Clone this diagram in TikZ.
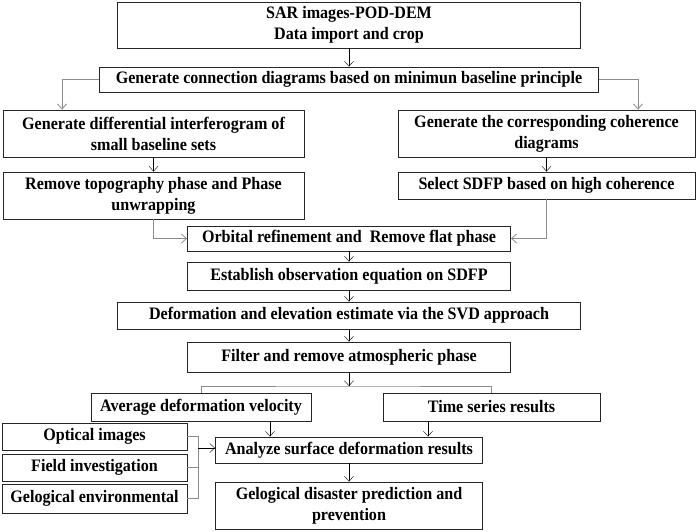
\documentclass[tikz,border=0pt]{standalone}
\usepackage{fontspec}
\setmainfont{Liberation Serif}[FakeStretch=0.92]
\usetikzlibrary{arrows.meta}
\begin{document}
\begin{tikzpicture}[x=1pt,y=-1pt,
    box/.style={draw=black!85,line width=0.9pt,align=center,inner sep=0pt,
      font=\bfseries\fontsize{17.5}{21}\selectfont},
    gline/.style={draw=black!45,line width=0.8pt},
    >={Straight Barb[length=5pt,width=9pt]}]
  \useasboundingbox (0,0) rectangle (699,531);
  \node[box,minimum width=463,minimum height=46] (sar) at (349,25) {SAR images-POD-DEM\\Data import and crop};
  \node[box,minimum width=499,minimum height=25] (conn) at (349,79.5) {Generate connection diagrams based on minimun baseline principle};
  \node[box,minimum width=301,minimum height=47] (diff) at (153.5,133.5) {Generate differential interferogram of\\small baseline sets};
  \node[box,minimum width=297,minimum height=47] (coh) at (546.5,133.5) {Generate the corresponding coherence\\diagrams};
  \node[box,minimum width=301,minimum height=47] (topo) at (153.5,195.5) {Remove topography phase and Phase\\unwrapping};
  \node[box,minimum width=297,minimum height=27] (sdfp) at (546.5,185.5) {Select SDFP based on high coherence};
  \node[box,minimum width=323,minimum height=25] (orb) at (349,238.5) {Orbital refinement and \ Remove flat phase};
  \node[box,minimum width=323,minimum height=28] (obs) at (349,276) {Establish observation equation on SDFP};
  \node[box,minimum width=463,minimum height=27] (svd) at (349,315.5) {Deformation and elevation estimate via the SVD approach};
  \node[box,minimum width=323,minimum height=30] (atm) at (349,357) {Filter and remove atmospheric phase};
  \node[box,minimum width=220,minimum height=28] (vel) at (201,407) {Average deformation velocity};
  \node[box,minimum width=217,minimum height=28] (ts) at (491.5,407) {Time series results};
  \node[box,minimum width=267,minimum height=26] (ana) at (349,450) {Analyze surface deformation results};
  \node[box,minimum width=267,minimum height=47] (dis) at (349,505.5) {Gelogical disaster prediction and\\prevention};
  \node[box,minimum width=185,minimum height=27] (opt) at (94.5,436.5) {Optical images};
  \node[box,minimum width=185,minimum height=27] (fld) at (94.5,467.5) {Field investigation};
  \node[box,minimum width=185,minimum height=29] (env) at (94.5,498.5) {Gelogical environmental};
  \coordinate (split) at (349,386);
  \coordinate (vdrop) at (270,0);
  \coordinate (tdrop) at (428,0);
  \coordinate (brk) at (198,0);
  \draw[->] (sar) -- (conn);
  \draw[gline,->] (conn.west) -| ([xshift=-91.5pt]diff.north);
  \draw[gline,->] (conn.east) -| ([xshift=91.5pt]coh.north);
  \draw[->] (diff) -- (topo);
  \draw[->] (coh) -- (sdfp);
  \draw[gline,->] (topo.south) |- (orb.west);
  \draw[gline,->] (sdfp.south) |- (orb.east);
  \draw[->] (orb) -- (obs);
  \draw[->] (obs) -- (svd);
  \draw[->] (svd) -- (atm);
  \draw[->] (atm) -- (split);
  \draw[gline] (vel.north) |- (split) -| (ts.north);
  \draw[->] (vdrop |- vel.south) -- (vdrop |- ana.north);
  \draw[->] (tdrop |- ts.south) -- (tdrop |- ana.north);
  \draw[->] (ana) -- (dis);
  \draw[gline] (opt.east) -- (opt.east -| brk) -- (env.east -| brk) -- (env.east);
  \draw[gline] (fld.east) -- (fld.east -| brk);
  \draw[->] ([yshift=2pt]brk |- ana.west) -- ([yshift=2pt]ana.west);
\end{tikzpicture}
\end{document}
